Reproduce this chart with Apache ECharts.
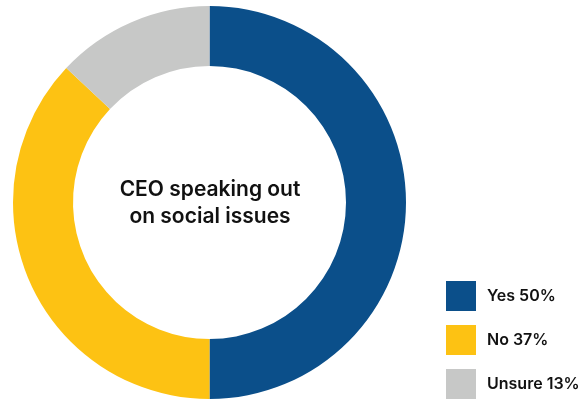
<!DOCTYPE html>
<html>
<head>
<meta charset="utf-8">
<script src="https://cdn.jsdelivr.net/npm/echarts@6/dist/echarts.min.js"></script>
<style>
  html, body { margin: 0; padding: 0; background: #fff; }
  #chart { width: 587px; height: 399px; }
</style>
</head>
<body>
<div id="chart"></div>
<script>
// Share of respondents by answer
const categories = ['Yes', 'No', 'Unsure'];
const shares = [50, 37, 13];
const colors = ['#0B4F8A', '#FDC213', '#C7C8C7'];
const centerTitle = 'CEO speaking out\non social issues';

const data = categories.map((name, i) => ({
  name: name,
  value: shares[i],
  itemStyle: { color: colors[i] }
}));

const chart = echarts.init(document.getElementById('chart'));
chart.setOption({
  animation: false,
  backgroundColor: '#fff',
  legend: {
    orient: 'vertical',
    left: 446,
    top: 281,
    height: 200,
    padding: 0,
    itemWidth: 30,
    itemHeight: 30,
    itemGap: 14,
    icon: 'rect',
    data: categories,
    formatter: function (name) {
      return name + ' ' + shares[categories.indexOf(name)] + '%';
    },
    textStyle: {
      fontFamily: 'Inter',
      fontWeight: 600,
      fontSize: 16,
      color: '#111',
      padding: [0, 0, 0, 6]
    }
  },
  graphic: [{
    type: 'text',
    x: 210,
    y: 203,
    style: {
      text: centerTitle,
      align: 'center',
      verticalAlign: 'middle',
      font: '600 21px Inter',
      lineHeight: 27,
      fill: '#111'
    }
  }],
  series: [{
    type: 'pie',
    center: [209.5, 202.5],
    radius: [136.5, 196.5],
    startAngle: 90,
    clockwise: true,
    label: { show: false },
    labelLine: { show: false },
    emphasis: { disabled: true },
    data: data
  }]
});
</script>
</body>
</html>
